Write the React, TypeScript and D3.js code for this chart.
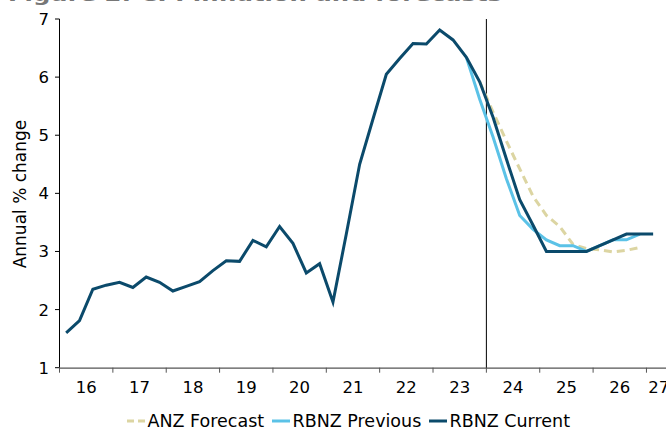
import React from "react";
import * as d3 from "d3";

// Quarterly data, first point = 2016 Q1
const currentStart = 2016;
const rbnzCurrent = [
  1.60, 1.81, 2.35, 2.42,
  2.47, 2.38, 2.56, 2.47,
  2.32, 2.40, 2.48, 2.67,
  2.84, 2.83, 3.19, 3.08,
  3.43, 3.14, 2.63, 2.79,
  2.13, 3.30, 4.50, 5.28,
  6.05, 6.32, 6.58, 6.57,
  6.81, 6.64, 6.34, 5.92,
  5.31, 4.59, 3.89, 3.45,
  3.00, 3.00, 3.00, 3.00,
  3.10, 3.20, 3.30, 3.30,
  3.30,
];

// starts 2023 Q3
const previousStart = 2023.5;
const rbnzPrevious = [
  6.34, 5.62,
  4.97, 4.25, 3.62, 3.38,
  3.20, 3.10, 3.10, 3.00,
  3.10, 3.20, 3.20, 3.30,
];

// starts 2023 Q4
const anzStart = 2023.75;
const anzForecast = [
  5.92,
  5.40, 4.90, 4.42, 3.95,
  3.62, 3.43, 3.12, 3.05,
  3.03, 2.99, 3.02, 3.07,
];

const yearTicks = [2016, 2017, 2018, 2019, 2020, 2021, 2022, 2023, 2024, 2025, 2026, 2027, 2028];
const yearLabels = ["16", "17", "18", "19", "20", "21", "22", "23", "24", "25", "26", "27"];
const yTicks = [1, 2, 3, 4, 5, 6, 7];
const forecastDivider = 2024;

const legendItems = [
  { name: "ANZ Forecast", color: "#DCD5A2", dash: "7,4", x: 127 },
  { name: "RBNZ Previous", color: "#5BC2E7", dash: null, x: 272 },
  { name: "RBNZ Current", color: "#0B4A6B", dash: null, x: 429 },
];

const W = 666;
const H = 429;
const FONT = "'DejaVu Sans', Verdana, sans-serif";

function toPoints(start: number, vals: number[]) {
  return vals.map((v, i) => ({ t: start + (i + 0.5) / 4, v }));
}

export default function App() {
  const x = d3.scaleLinear().domain([2016, 2028]).range([59.5, 59.5 + 12 * 53.36]);
  const y = d3.scaleLinear().domain([1, 7]).range([367.7, 19]);
  const line = d3
    .line<{ t: number; v: number }>()
    .x((d) => x(d.t))
    .y((d) => y(d.v));

  const series = [
    { pts: toPoints(anzStart, anzForecast), color: "#DCD5A2", dash: "8,5", width: 3 },
    { pts: toPoints(previousStart, rbnzPrevious), color: "#5BC2E7", dash: null, width: 3 },
    { pts: toPoints(currentStart, rbnzCurrent), color: "#0B4A6B", dash: null, width: 3 },
  ];

  const chartRight = 669;
  const labelHalf = 10.3;

  return (
    <svg
      width={W}
      height={H}
      style={{ position: "absolute", left: 0, top: 0, background: "#fff" }}
      fontFamily={FONT}
    >
      <rect x={0} y={0} width={W} height={H} fill="#fff" />
      <text x={8} y={0.8} fontSize={18} fontWeight="bold" fill="#777" textLength={494} lengthAdjust="spacingAndGlyphs">
        Figure 2: CPI inflation and forecasts
      </text>

      {/* y axis */}
      <line x1={59.5} x2={59.5} y1={y(7)} y2={y(1)} stroke="#000" strokeWidth={1} />
      {yTicks.map((t) => (
        <g key={t}>
          <line x1={55} x2={59.5} y1={y(t)} y2={y(t)} stroke="#000" strokeWidth={1} />
          <text x={49} y={y(t)} dy="0.36em" textAnchor="end" fontSize={16.5} fill="#000">
            {t}
          </text>
        </g>
      ))}
      <text
        transform={`translate(26,194) rotate(-90)`}
        textAnchor="middle"
        fontSize={17}
        fill="#000"
      >
        Annual % change
      </text>

      {/* x axis */}
      <line x1={59.5} x2={W} y1={y(1) + 0.5} y2={y(1) + 0.5} stroke="#555" strokeWidth={1.2} />
      {yearTicks.map((t) => (
        <line key={t} x1={x(t)} x2={x(t)} y1={y(1)} y2={y(1) + 5} stroke="#555" strokeWidth={1} />
      ))}
      {yearLabels.map((lab, i) => {
        const cx = Math.min(x(2016 + i + 0.5), chartRight - labelHalf);
        return (
          <text key={lab} x={cx} y={393} textAnchor="middle" fontSize={16.5} fill="#000">
            {lab}
          </text>
        );
      })}

      {/* forecast divider */}
      <line
        x1={x(forecastDivider)}
        x2={x(forecastDivider)}
        y1={y(7)}
        y2={y(1)}
        stroke="#000"
        strokeWidth={1}
      />

      {series.map((s, i) => (
        <path
          key={i}
          d={line(s.pts) || ""}
          fill="none"
          stroke={s.color}
          strokeWidth={s.width}
          strokeDasharray={s.dash || undefined}
          strokeLinejoin="miter"
        />
      ))}

      {/* legend */}
      {legendItems.map((it) => (
        <g key={it.name}>
          <line
            x1={it.x}
            x2={it.x + 18}
            y1={421}
            y2={421}
            stroke={it.color}
            strokeWidth={3}
            strokeDasharray={it.dash || undefined}
          />
          <text x={it.x + 20.5} y={427} fontSize={17.5} fill="#000">
            {it.name}
          </text>
        </g>
      ))}
    </svg>
  );
}
